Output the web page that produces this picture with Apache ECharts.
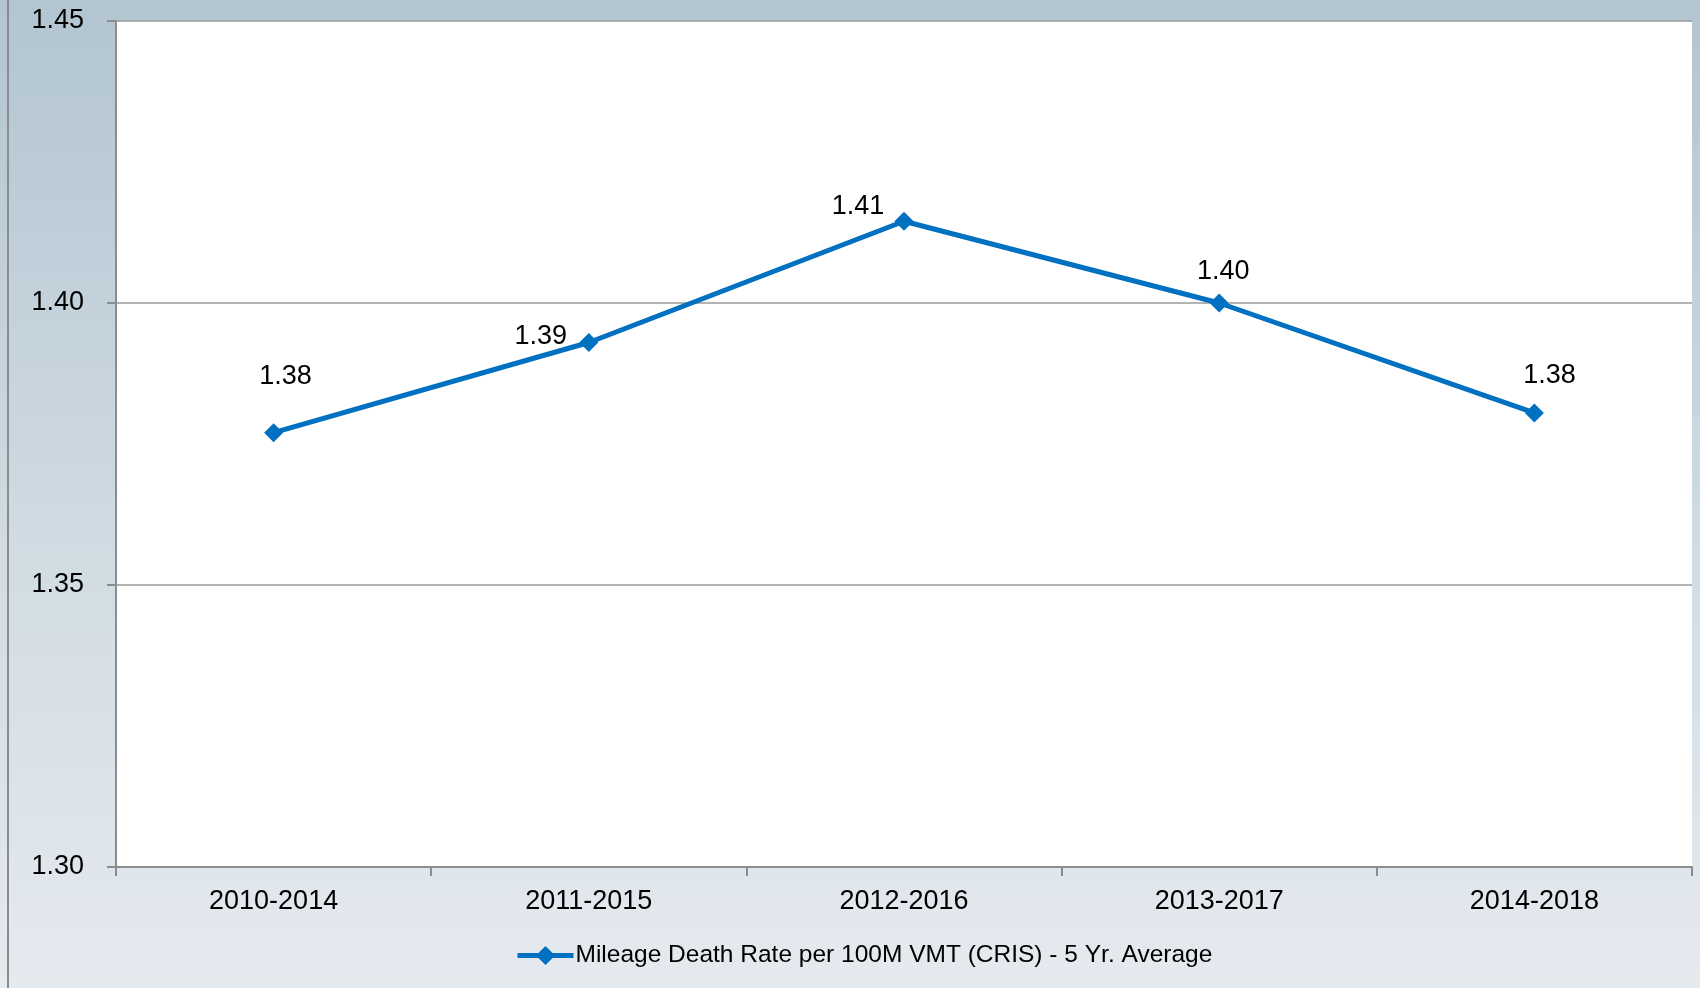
<!DOCTYPE html>
<html>
<head>
<meta charset="utf-8">
<script src="https://cdn.jsdelivr.net/npm/echarts@6/dist/echarts.min.js"></script>
<style>
html,body{margin:0;padding:0;}
#chart{width:1700px;height:988px;}
</style>
</head>
<body>
<div id="chart"></div>
<script>
const categories = ['2010-2014', '2011-2015', '2012-2016', '2013-2017', '2014-2018'];
const seriesName = 'Mileage Death Rate per 100M VMT (CRIS) - 5 Yr. Average';
const rateValues = [1.377, 1.393, 1.4145, 1.400, 1.3805];
const yTicks = [1.30, 1.35, 1.40, 1.45];

// layout only: label offsets [dx, dy] from the default 'top' position
const labelOffsets = [[12, -28], [-48, 22], [-46, 13], [4, -3], [15, -9]];

const chart = echarts.init(document.getElementById('chart'));
const fontMain = 'Liberation Sans, Arial, sans-serif';

chart.setOption({
  backgroundColor: {
    type: 'linear', x: 0, y: 0, x2: 0, y2: 1,
    colorStops: [
      { offset: 0, color: '#b2c5d1' },
      { offset: 0.6, color: '#d3dde4' },
      { offset: 1, color: '#e5eaef' }
    ]
  },
  graphic: [{
    type: 'rect',
    shape: { x: 7, y: 0, width: 2, height: 988 },
    style: { fill: '#8c8c8c' },
    silent: true
  }],
  grid: {
    left: 116, right: 8, top: 21, bottom: 121,
    show: true, backgroundColor: '#ffffff', borderWidth: 0
  },
  legend: {
    left: 510, top: 938,
    itemWidth: 56, itemHeight: 24, itemGap: 0,
    lineStyle: { width: 5 },
    textStyle: { fontFamily: fontMain, fontSize: 24.5, color: '#000', padding: [0, 0, 0, -3] },
    data: [seriesName]
  },
  xAxis: {
    type: 'category',
    data: categories,
    boundaryGap: true,
    axisLine: { show: true, lineStyle: { color: '#8c8c8c', width: 2 } },
    axisTick: { show: true, length: 9, interval: 0, lineStyle: { color: '#8c8c8c', width: 2 } },
    axisLabel: { margin: 21, fontFamily: fontMain, fontSize: 27, color: '#000' }
  },
  yAxis: {
    type: 'value',
    min: yTicks[0], max: yTicks[yTicks.length - 1], interval: 0.05,
    axisLine: { show: true, lineStyle: { color: '#8c8c8c', width: 2 } },
    axisTick: { show: true, length: 9, lineStyle: { color: '#8c8c8c', width: 2 } },
    splitLine: { show: true, lineStyle: { color: '#9a9a9a', width: 1.5 } },
    axisLabel: {
      margin: 32, fontFamily: fontMain, fontSize: 27, color: '#000',
      formatter: v => v.toFixed(2)
    }
  },
  series: [{
    name: seriesName,
    type: 'line',
    data: rateValues.map((v, i) => ({
      value: v,
      label: { offset: labelOffsets[i] }
    })),
    symbol: 'diamond',
    symbolSize: 19,
    lineStyle: { color: '#0070c0', width: 5 },
    itemStyle: { color: '#0070c0' },
    label: {
      show: true, position: 'top', distance: 5,
      fontFamily: fontMain, fontSize: 27, color: '#000',
      formatter: p => p.value.toFixed(2)
    },
    animation: false
  }],
  animation: false
});
</script>
</body>
</html>
